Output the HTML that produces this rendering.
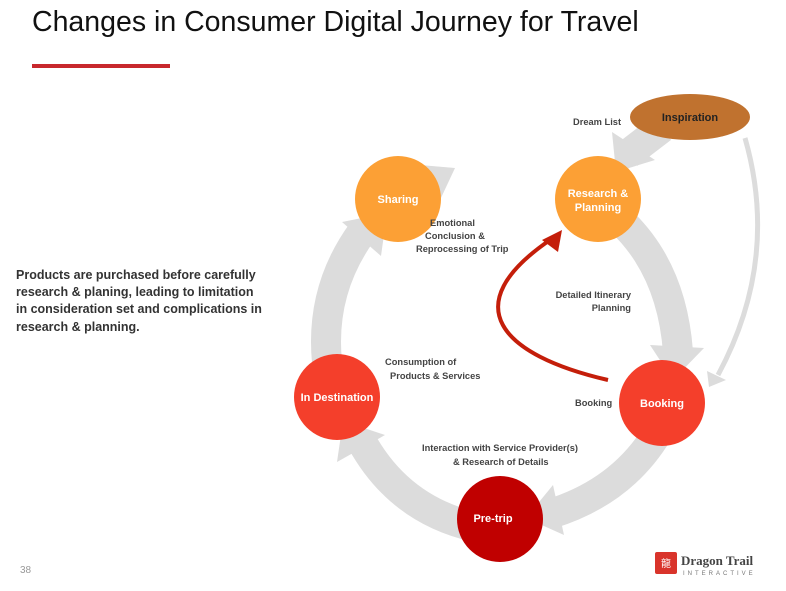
<!DOCTYPE html>
<html><head><style>
body{margin:0;width:786px;height:586px;background:#fff;overflow:hidden;font-family:"Liberation Sans",sans-serif}
</style></head><body>
<svg width="786" height="586" viewBox="0 0 786 586" xmlns="http://www.w3.org/2000/svg" font-family="Liberation Sans, sans-serif">
<text x="32" y="31" font-size="28.5" fill="#111">Changes in Consumer Digital Journey for Travel</text>
<rect x="32" y="64" width="138" height="4" fill="#c8282d"/>
<g font-size="12.5" font-weight="bold" fill="#333">
<text x="16" y="279">Products are purchased before carefully</text>
<text x="16" y="296">research &amp; planing, leading to limitation</text>
<text x="16" y="313">in consideration set and complications in</text>
<text x="16" y="331">research &amp; planning.</text>
</g>
<g fill="none" stroke="#dcdcdc" stroke-width="30">
<path d="M622,222 Q672,270 678,352"/>
<path d="M658,432 Q622,492 550,514"/>
<path d="M475,527 Q400,510 362,442"/>
<path d="M327,362 Q320,290 362,232"/>
<path d="M662,128 L628,154"/>
</g>
<g fill="#dcdcdc">
<polygon points="650,345 704,348 673,380"/>
<polygon points="553,485 564,535 526,518"/>
<polygon points="343,421 385,435 337,462"/>
<polygon points="342,222 387,213 381,256"/>
<polygon points="612,132 655,160 616,172"/>
<polygon points="420,165 455,168 440,200"/>
</g>
<path d="M745,138 Q780,260 718,375" fill="none" stroke="#dcdcdc" stroke-width="5"/>
<polygon points="707,371 726,380 709,387" fill="#dcdcdc"/>
<path d="M608,380 C500,355 455,305 550,240" fill="none" stroke="#c41e0a" stroke-width="4"/>
<polygon points="562,230 558,252 542,240" fill="#c41e0a"/>
<ellipse cx="690" cy="117" rx="60" ry="23" fill="#c0722f"/>
<circle cx="398" cy="199" r="43" fill="#fca035"/>
<circle cx="598" cy="199" r="43" fill="#fca035"/>
<circle cx="662" cy="403" r="43" fill="#f43f2b"/>
<circle cx="500" cy="519" r="43" fill="#c00000"/>
<circle cx="337" cy="397" r="43" fill="#f43f2b"/>
<g font-size="11" font-weight="bold" fill="#fff" text-anchor="middle">
<text x="398" y="203">Sharing</text>
<text x="598" y="197">Research &amp;</text>
<text x="598" y="211">Planning</text>
<text x="662" y="407">Booking</text>
<text x="493" y="522">Pre-trip</text>
<text x="337" y="401">In Destination</text>
<text x="690" y="121" fill="#222">Inspiration</text>
</g>
<g font-size="9.3" font-weight="bold" fill="#444">
<text x="573" y="125">Dream List</text>
<text x="430" y="226">Emotional</text>
<text x="425" y="239">Conclusion &amp;</text>
<text x="416" y="252">Reprocessing of Trip</text>
<text x="631" y="298" text-anchor="end">Detailed Itinerary</text>
<text x="631" y="311" text-anchor="end">Planning</text>
<text x="385" y="365">Consumption of</text>
<text x="390" y="379">Products &amp; Services</text>
<text x="575" y="406">Booking</text>
<text x="422" y="451">Interaction with Service Provider(s)</text>
<text x="453" y="465">&amp; Research of Details</text>
</g>
<text x="20" y="573" font-size="10" fill="#999">38</text>
<rect x="655" y="552" width="22" height="22" rx="2" fill="#d9342b"/>
<text x="666" y="567" font-size="10" fill="#fff" text-anchor="middle">龍</text>
<text x="681" y="565" font-size="13" font-weight="bold" fill="#444" font-family="Liberation Serif, serif">Dragon Trail</text>
<text x="683" y="575" font-size="6" fill="#777" letter-spacing="3">INTERACTIVE</text>
</svg>
</body></html>
